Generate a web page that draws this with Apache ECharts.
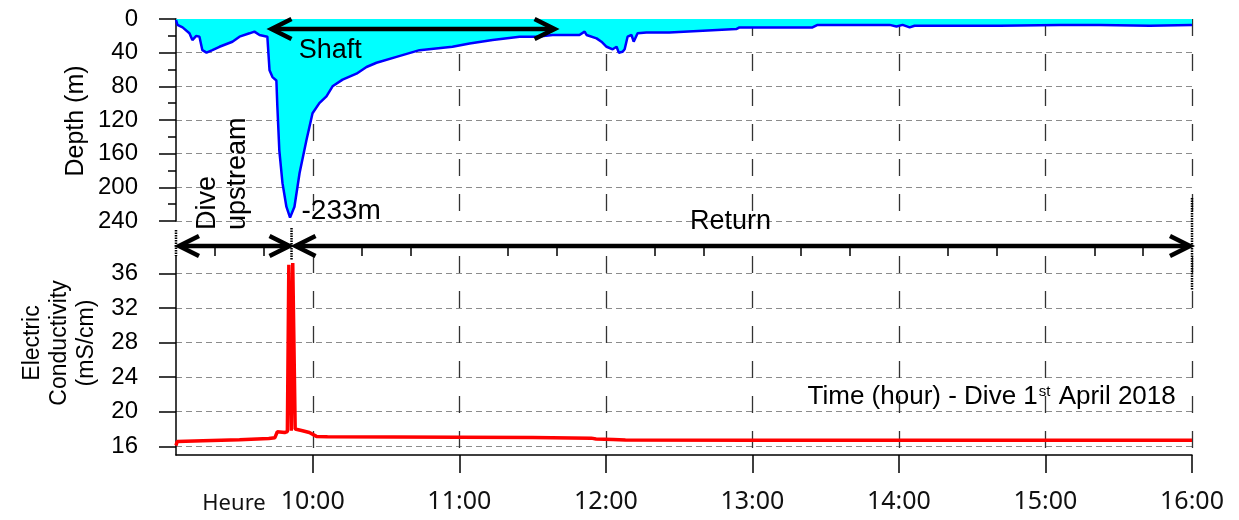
<!DOCTYPE html>
<html>
<head>
<meta charset="utf-8">
<title>Dive 1st April 2018</title>
<script src="https://cdn.jsdelivr.net/npm/echarts@6/dist/echarts.min.js"></script>
<style>
  html, body { margin: 0; padding: 0; background: #fff; }
  #chart { width: 1239px; height: 520px; }
</style>
</head>
<body>
<div id="chart"></div>
<script>
// depth profile (time, metres)
const depthTimes = [
  '9:04:00', '9:04:36', '9:06:42', '9:09:30', '9:10:42', '9:12:18', '9:13:36', '9:14:48',
  '9:16:30', '9:18:54', '9:21:48', '9:27:06', '9:30:00', '9:34:06', '9:36:06', '9:38:12',
  '9:41:24', '9:42:18', '9:43:30', '9:45:06', '9:45:30', '9:46:18', '9:47:36', '9:49:12',
  '9:50:42', '9:52:30', '9:54:36', '9:57:24', '9:59:54', '10:02:42', '10:05:36', '10:08:06',
  '10:12:12', '10:17:54', '10:22:00', '10:26:06', '10:34:18', '10:43:42', '10:57:12', '11:04:12',
  '11:13:36', '11:24:42', '11:31:36', '11:38:12', '11:45:06', '11:49:12', '11:51:18', '11:52:06',
  '11:56:12', '11:58:12', '12:00:18', '12:02:48', '12:04:24', '12:05:18', '12:06:48', '12:07:42',
  '12:08:54', '12:10:30', '12:11:24', '12:13:00', '12:16:36', '12:26:00', '12:26:48', '12:53:24',
  '12:54:42', '13:24:36', '13:26:42', '13:56:12', '13:59:00', '14:01:30', '14:04:24', '14:06:24',
  '14:41:18', '15:05:48', '15:22:12', '15:42:42', '16:00:00'
]
const depthValues = [
  1, 7, 10, 17, 25, 20, 21, 37,
  40, 37, 33, 27, 21, 17, 15, 19,
  21, 61, 69, 73, 104, 156, 195, 223,
  236, 223, 183, 144, 112, 100, 92, 80,
  72, 65, 57, 52, 45, 37, 33, 29,
  25, 21, 21, 19, 19, 19, 15, 19,
  23, 27, 33, 36, 33, 40, 39, 36,
  21, 19, 27, 17, 16, 16, 14, 12,
  10, 10, 7, 7, 9, 7, 10, 8,
  8, 7, 7, 8, 7
]

// electric conductivity (time, mS/cm)
const ecTimes = [
  '9:04:00', '9:04:30', '9:15:00', '9:30:00', '9:42:00', '9:44:30', '9:45:30', '9:48:30',
  '9:49:36', '9:50:12', '9:50:42', '9:51:12', '9:51:48', '9:52:18', '9:52:48', '9:55:48',
  '9:58:36', '10:01:30', '10:06:00', '11:00:00', '11:30:00', '11:54:00', '11:56:00', '12:03:00',
  '12:08:00', '13:00:00', '14:00:00', '15:00:00', '16:00:00'
]
const ecValues = [
  16.1, 16.55, 16.65, 16.75, 16.9, 17.0, 17.7, 17.6,
  17.7, 37.0, 37.1, 17.8, 37.2, 37.3, 18.0, 17.8,
  17.6, 17.15, 17.1, 17.05, 17.02, 16.95, 16.85, 16.8,
  16.72, 16.7, 16.7, 16.7, 16.7
]

const hourTicks = ['10:00', '11:00', '12:00', '13:00', '14:00', '15:00', '16:00']
const minorTicks = ['9:20', '9:40', '10:20', '10:40', '11:20', '11:40', '12:20', '12:40',
  '13:20', '13:40', '14:20', '14:40', '15:20', '15:40']
const depthTicks = [0, 40, 80, 120, 160, 200, 240]
const ecTicks = [16, 20, 24, 28, 32, 36]

// "9:50:42" -> decimal hours
function hours(s) {
  const p = s.split(':').map(Number)
  return p[0] + (p[1] || 0) / 60 + (p[2] || 0) / 3600
}

const xMin = hours('9:04')
const xMax = hours('16:00')
const labelFont = '"Liberation Sans", Arial, sans-serif'
const hourFont = '"Noto Sans", "Open Sans", sans-serif'

const hDash = { color: '#8c8c8c', width: 1, type: [6, 4] }
const vDash = { color: '#333', width: 1.3, type: [17, 18] }

let myChart = echarts.init(document.getElementById('chart'))
myChart.setOption({
  animation: false,
  grid: [
    { left: 176, right: 47, top: 19, height: 202 },
    { left: 176, right: 47, top: 256, height: 199 }
  ],
  xAxis: [
    {
      // top plot: only the hourly dashed verticals
      type: 'value', gridIndex: 0, min: xMin, max: xMax,
      axisLine: { show: false },
      axisTick: { show: false, customValues: hourTicks.map(hours) },
      axisLabel: { show: false },
      splitLine: { show: true, lineStyle: vDash }
    },
    {
      type: 'value', gridIndex: 1, min: xMin, max: xMax,
      axisLine: { show: true, lineStyle: { color: '#000', width: 1.5 } },
      axisTick: { show: true, length: 18, customValues: hourTicks.map(hours), lineStyle: { color: '#000', width: 1.5 } },
      axisLabel: {
        customValues: hourTicks.map(hours),
        formatter: v => Math.round(v) + ':00',
        fontFamily: hourFont, fontSize: 25, color: '#111', margin: 34
      },
      splitLine: { show: true, lineStyle: vDash }
    },
    {
      // 20 minute ticks
      type: 'value', gridIndex: 1, min: xMin, max: xMax,
      axisLine: { show: false },
      axisTick: { show: true, length: 9, customValues: minorTicks.map(hours), lineStyle: { color: '#000', width: 1.5 } },
      axisLabel: { show: false },
      splitLine: { show: false }
    }
  ],
  yAxis: [
    {
      type: 'value', gridIndex: 0, inverse: true, min: 0, max: 240, interval: 40,
      axisLine: { show: true, lineStyle: { color: '#000', width: 1.5 } },
      axisTick: { show: true, length: 17, lineStyle: { color: '#000', width: 1.5 } },
      minorTick: { show: true, splitNumber: 2, length: 8, lineStyle: { color: '#000', width: 1.5 } },
      axisLabel: { fontFamily: labelFont, fontSize: 24, color: '#000', margin: 38 },
      splitLine: { show: true, lineStyle: hDash }
    },
    {
      type: 'value', gridIndex: 1, min: 15, max: 38,
      axisLine: { show: true, lineStyle: { color: '#000', width: 1.5 } },
      axisTick: { show: true, length: 17, customValues: ecTicks, lineStyle: { color: '#000', width: 1.5 } },
      axisLabel: { customValues: ecTicks, fontFamily: labelFont, fontSize: 24, color: '#000', margin: 38 },
      splitLine: { show: true, lineStyle: hDash }
    }
  ],
  series: [
    {
      name: 'Depth',
      type: 'line',
      xAxisIndex: 0, yAxisIndex: 0,
      data: depthTimes.map((t, i) => [hours(t), depthValues[i]]),
      showSymbol: false,
      lineStyle: { color: '#0000ff', width: 2.5 },
      areaStyle: { color: '#00ffff', opacity: 1 }
    },
    {
      name: 'Electric conductivity',
      type: 'line',
      xAxisIndex: 1, yAxisIndex: 1,
      data: ecTimes.map((t, i) => [hours(t), ecValues[i]]),
      showSymbol: false,
      lineStyle: { color: '#ff0000', width: 3.5 }
    }
  ]
})

// annotations, placed through the chart's own scales
function px(t, v, g) {
  return myChart.convertToPixel({ xAxisIndex: g, yAxisIndex: g }, [hours(t), v])
}
function arrow(x1, x2, y) {
  const st = { stroke: '#000', lineWidth: 4.5, fill: 'none' }
  return [
    { type: 'line', z: 50, shape: { x1: x1 + 2, y1: y, x2: x2 - 2, y2: y }, style: st },
    { type: 'polyline', z: 50, shape: { points: [[x1 + 20, y - 10], [x1, y], [x1 + 20, y + 10]] }, style: st },
    { type: 'polyline', z: 50, shape: { points: [[x2 - 20, y - 10], [x2, y], [x2 - 20, y + 10]] }, style: st }
  ]
}
function dotted(x, y1, y2) {
  return { type: 'line', z: 50, shape: { x1: x, y1: y1, x2: x, y2: y2 }, style: { stroke: '#000', lineWidth: 2.5, lineDash: [1.5, 1] } }
}
function label(x, y, text, size, align, rot) {
  return {
    type: 'text', z: 50, x: x, y: y, rotation: rot || 0,
    style: {
      text: text, fontFamily: labelFont, fontSize: size, fill: '#000',
      align: align, textAlign: align, verticalAlign: 'middle', textVerticalAlign: 'middle'
    }
  }
}

const shaftL = px('9:43:06', 12, 0)
const shaftR = px('11:39:00', 12, 0)
const rowY = 246
const xStart = px('9:04', 0, 0)[0]
const xBottom = px('9:51:18', 0, 0)[0]
const xEnd = px('16:00', 0, 0)[0]
const shaftTxt = px('10:07:12', 37, 0)
const depthTxt = px('9:55:24', 229, 0)
const returnTxt = px('12:51', 0, 0)[0]
const diveX = px('9:16:54', 0, 0)[0]
const upX = px('9:29:12', 0, 0)[0]
const timeTxt = px('13:22:36', 21.7, 1)

let elements = []
elements = elements.concat(arrow(shaftL[0], shaftR[0], shaftL[1]))
elements = elements.concat(arrow(xStart + 3, xBottom - 2, rowY))
elements = elements.concat(arrow(xBottom + 4, xEnd - 2, rowY))
elements.push(dotted(xStart, 230, 256))
elements.push(dotted(xBottom, 228, 260))
elements.push(dotted(xEnd, 198, 290))
elements.push(label(shaftTxt[0], shaftTxt[1], 'Shaft', 27, 'center'))
elements.push(label(depthTxt[0], depthTxt[1], '-233m', 28, 'left'))
elements.push(label(returnTxt, 222, 'Return', 27, 'center'))
elements.push(label(diveX, 230, 'Dive', 27, 'left', Math.PI / 2))
elements.push(label(upX, 230, 'upstream', 27, 'left', Math.PI / 2))
elements.push(label(76, 121, 'Depth (m)', 25, 'center', Math.PI / 2))
elements.push({
  type: 'text', z: 50, x: 60, y: 343, rotation: Math.PI / 2,
  style: {
    text: 'Electric\nConductivity\n(mS/cm)', fontFamily: labelFont, fontSize: 23, lineHeight: 27, fill: '#000',
    align: 'center', textAlign: 'center', verticalAlign: 'middle', textVerticalAlign: 'middle'
  }
})
elements.push({
  type: 'text', z: 50, x: timeTxt[0], y: timeTxt[1],
  style: {
    text: 'Time (hour) - Dive 1{sup|st} April 2018', fontFamily: labelFont, fontSize: 26, fill: '#000',
    align: 'left', textAlign: 'left', verticalAlign: 'middle', textVerticalAlign: 'middle',
    rich: { sup: { fontFamily: labelFont, fontSize: 15, verticalAlign: 'top', padding: [0, 1, 0, 1] } }
  }
})
elements.push({
  type: 'text', z: 50, x: 234, y: 504,
  style: {
    text: 'Heure', fontFamily: hourFont, fontSize: 22, fill: '#111',
    align: 'center', textAlign: 'center', verticalAlign: 'middle', textVerticalAlign: 'middle'
  }
})
myChart.setOption({ graphic: { elements: elements } })

window.onresize = function () {
  myChart.resize()
}
</script>
</body>
</html>
